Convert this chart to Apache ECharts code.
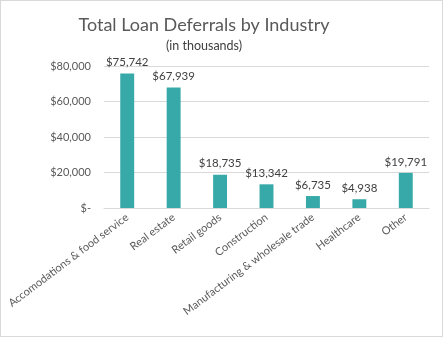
<!DOCTYPE html>
<html>
<head>
<meta charset="utf-8">
<script src="https://cdn.jsdelivr.net/npm/echarts@6/dist/echarts.min.js"></script>
<style>
html,body{margin:0;padding:0;background:#fff;}
#c{width:441px;height:335px;border:1px solid #d9d9d9;}
</style>
</head>
<body>
<div id="c"></div>
<script>
const categories = ["Accomodations & food service","Real estate","Retail goods","Construction","Manufacturing & wholesale trade","Healthcare","Other"];
const values = [75742, 67939, 18735, 13342, 6735, 4938, 19791];
const yTicks = [0, 20000, 40000, 60000, 80000];

const font = "Lato, 'Open Sans', sans-serif";
function money(v){ return v === 0 ? "$-" : "$" + v.toLocaleString("en-US"); }

const chart = echarts.init(document.getElementById('c'), null, {renderer:'canvas'});
chart.setOption({
  animation:false,
  title:[
    {text:"Total Loan Deferrals by Industry", left:198, top:10, textAlign:'center',
     textStyle:{fontFamily:font, fontSize:18, fontWeight:'normal', color:'#595959'}},
    {text:"(in thousands)", left:198, top:33, textAlign:'center',
     textStyle:{fontFamily:font, fontSize:12.5, fontWeight:'normal', color:'#404040'}}
  ],
  grid:{left:103, right:13, top:65, bottom:128, containLabel:false},
  xAxis:{
    type:'category', data:categories,
    axisLine:{lineStyle:{color:'#d9d9d9'}},
    axisTick:{show:false},
    axisLabel:{rotate:37, interval:0, fontFamily:font, fontSize:11, color:'#595959', margin:8}
  },
  yAxis:{
    type:'value', min:yTicks[0], max:yTicks[yTicks.length-1], interval:20000,
    axisLine:{show:false}, axisTick:{show:false},
    splitLine:{lineStyle:{color:'#d9d9d9'}},
    axisLabel:{formatter:money, fontFamily:font, fontSize:11, color:'#595959', margin:13}
  },
  series:[{
    type:'bar', data:values, barWidth:'30%',
    itemStyle:{color:'#37a9a9'},
    label:{show:true, position:'top', formatter:p=>money(p.value), fontFamily:font, fontSize:11.5, color:'#404040', distance:5}
  }]
});
</script>
</body>
</html>
